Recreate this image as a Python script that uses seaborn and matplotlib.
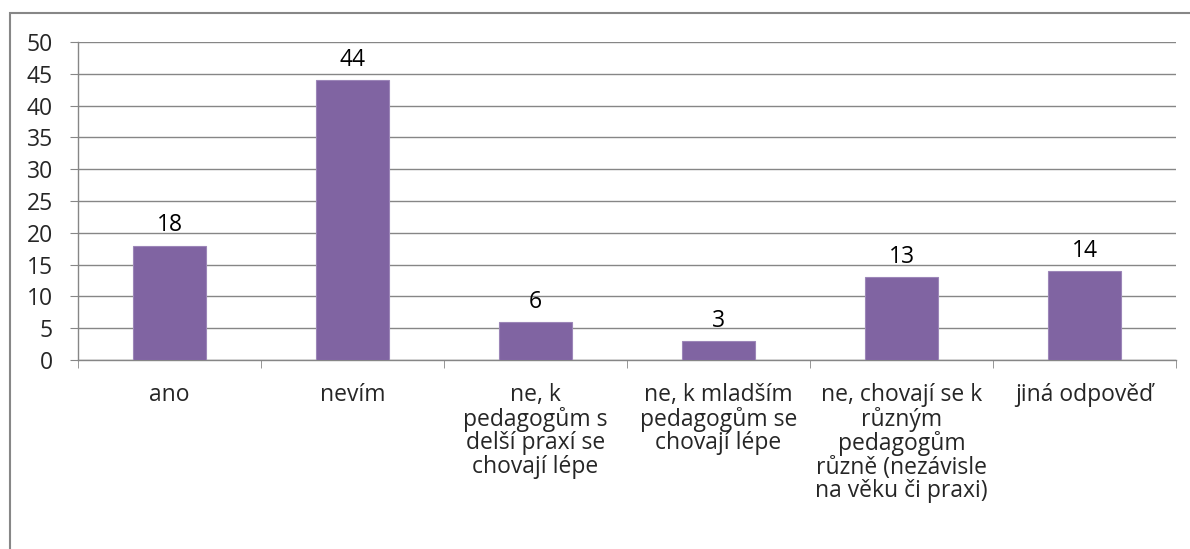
import matplotlib.pyplot as plt
import matplotlib.patches as mpatches
import seaborn as sns
import pandas as pd

categories = [
    "ano",
    "nevím",
    "ne, k\npedagogům s\ndelší praxí se\nchovají lépe",
    "ne, k mladším\npedagogům se\nchovají lépe",
    "ne, chovají se k\nrůzným\npedagogům\nrůzně (nezávisle\nna věku či praxi)",
    "jiná odpověď",
]
counts = [18, 44, 6, 3, 13, 14]

df = pd.DataFrame({"kategorie": categories, "pocet": counts})

sns.set_style("white")
plt.rcParams['font.family'] = ['Open Sans', 'DejaVu Sans']
fs = 16.5

fig = plt.figure(figsize=(11.9, 5.49), dpi=100)
ax = fig.add_axes([78 / 1190, 1 - 360 / 549, 1098 / 1190, 318 / 549])

# outer chart border (Excel style)
fig.patches.append(mpatches.Rectangle((10 / 1190, -0.05), 1.1, 1 - 13 / 549 + 0.05,
                                      transform=fig.transFigure, fill=False,
                                      edgecolor='#878787', linewidth=1.5, zorder=0))

sns.barplot(data=df, x="kategorie", y="pocet", color='#8064A2', width=0.4,
            saturation=1, edgecolor='#9c86b8', linewidth=0.8, ax=ax, zorder=3)

for c in ax.containers:
    ax.bar_label(c, padding=6, fontsize=fs, color='black')

ax.set_ylim(0, 50)
ax.set_xlim(-0.5, 5.5)
ax.set_yticks(range(0, 51, 5))
ax.yaxis.grid(True, color='#868686', linewidth=1)
ax.set_axisbelow(True)
ax.set_xlabel("")
ax.set_ylabel("")

for s in ['top', 'right']:
    ax.spines[s].set_visible(False)
for s in ['left', 'bottom']:
    ax.spines[s].set_color('#868686')
    ax.spines[s].set_linewidth(1)

ax.tick_params(axis='y', which='both', left=True, length=6, color='#868686',
               labelsize=fs, pad=12)
ax.tick_params(axis='x', which='major', bottom=False, labelsize=fs, pad=13)
ax.set_xticks([i - 0.5 for i in range(7)], minor=True)
ax.tick_params(axis='x', which='minor', bottom=True, length=6, color='#868686',
               direction='out')
for lbl in ax.get_xticklabels():
    lbl.set_linespacing(0.98)

fig.savefig("out.png", dpi=100)
